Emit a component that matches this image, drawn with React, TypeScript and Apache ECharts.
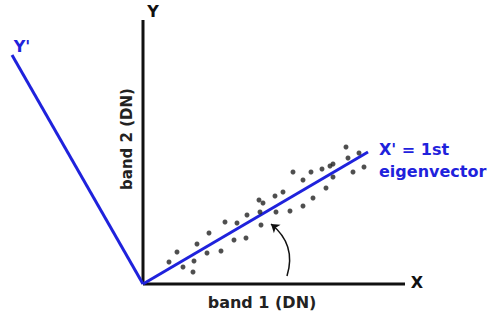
import React, { useEffect, useRef } from "react";
import * as echarts from "echarts";

// Scatter of band 1 / band 2 digital numbers (DN), origin at (0,0)
const band1: number[] = [203, 216, 205, 221, 210, 190, 187, 179, 168, 150, 160, 190, 183, 140, 170, 160, 147, 116, 120, 132, 133, 117, 104, 94, 118, 82, 66, 91, 103, 78, 54, 64, 34, 51, 40, 50, 26];
const band2: number[] = [137, 131, 126, 117, 112, 120, 118, 115, 112, 112, 104, 107, 96, 92, 86, 78, 73, 84, 81, 88, 72, 72, 69, 61, 59, 62, 51, 44, 46, 33, 40, 31, 32, 23, 17, 12, 22];

// Original axes (X, Y) end points
const xAxisEnd: [number, number] = [262, 0];
const yAxisEnd: [number, number] = [0, 264];
// Rotated axes (X' = 1st eigenvector, Y')
const xPrimeEnd: [number, number] = [225, 132];
const yPrimeEnd: [number, number] = [-131, 229];
// Rotation arrow (from X axis toward X')
const arrowFrom: [number, number] = [144, 8];
const arrowTo: [number, number] = [128, 60];

const BLUE = "#1f22dc";
const FONT = "DejaVu Sans";

export default function App() {
  const ref = useRef<HTMLDivElement>(null);
  useEffect(() => {
    document.body.style.margin = "0";
    if (!ref.current) return;
    const chart = echarts.init(ref.current, undefined, { renderer: "svg" });
    const pts = band1.map((x, i) => [x, band2[i]]);
    const txt = (text: string, x: number, y: number, color: string, extra: any = {}) => ({
      type: "text",
      x,
      y,
      style: {
        text,
        fill: color,
        font: `bold 16px "${FONT}"`,
        align: "center",
        verticalAlign: "middle",
        ...extra,
      },
    });
    chart.setOption({
      animation: false,
      backgroundColor: "#ffffff",
      grid: { left: 0, right: 0, top: 0, bottom: 0 },
      xAxis: { type: "value", min: -143, max: 348, show: false },
      yAxis: { type: "value", min: -36, max: 284, show: false },
      series: [
        {
          type: "line",
          data: [[0, 0], xPrimeEnd],
          symbol: "none",
          lineStyle: { color: BLUE, width: 3 },
          z: 3,
        },
        {
          type: "line",
          data: [[0, 0], yPrimeEnd],
          symbol: "none",
          lineStyle: { color: BLUE, width: 3 },
          z: 3,
        },
        {
          type: "line",
          data: [[0, 0], xAxisEnd],
          symbol: "none",
          lineStyle: { color: "#111", width: 3 },
          z: 2,
        },
        {
          type: "line",
          data: [[0, 0], yAxisEnd],
          symbol: "none",
          lineStyle: { color: "#111", width: 3 },
          z: 2,
        },
        {
          type: "scatter",
          data: pts,
          symbolSize: 5,
          itemStyle: { color: "#222" },
          z: 4,
        },
        {
          type: "lines",
          coordinateSystem: "cartesian2d",
          data: [{ coords: [arrowFrom, arrowTo] }],
          symbol: ["none", "arrow"],
          symbolSize: 8,
          lineStyle: { color: "#111", width: 1.5, curveness: -0.34, opacity: 1 },
          z: 4,
        },
      ],
      graphic: [
        txt("X", 417, 282, "#111"),
        txt("Y", 153, 11, "#111"),
        txt("Y'", 22, 46, BLUE),
        txt("X' = 1st", 379, 149, BLUE, { align: "left" }),
        txt("eigenvector", 379, 171, BLUE, { align: "left" }),
        txt("band 1 (DN)", 262, 302, "#222"),
        {
          type: "text",
          x: 127,
          y: 139,
          rotation: Math.PI / 2,
          style: {
            text: "band 2 (DN)",
            fill: "#222",
            font: `bold 15px "${FONT}"`,
            align: "center",
            verticalAlign: "middle",
          },
        },
      ],
    });
    return () => chart.dispose();
  }, []);
  return <div ref={ref} style={{ width: 491, height: 320 }} />;
}
